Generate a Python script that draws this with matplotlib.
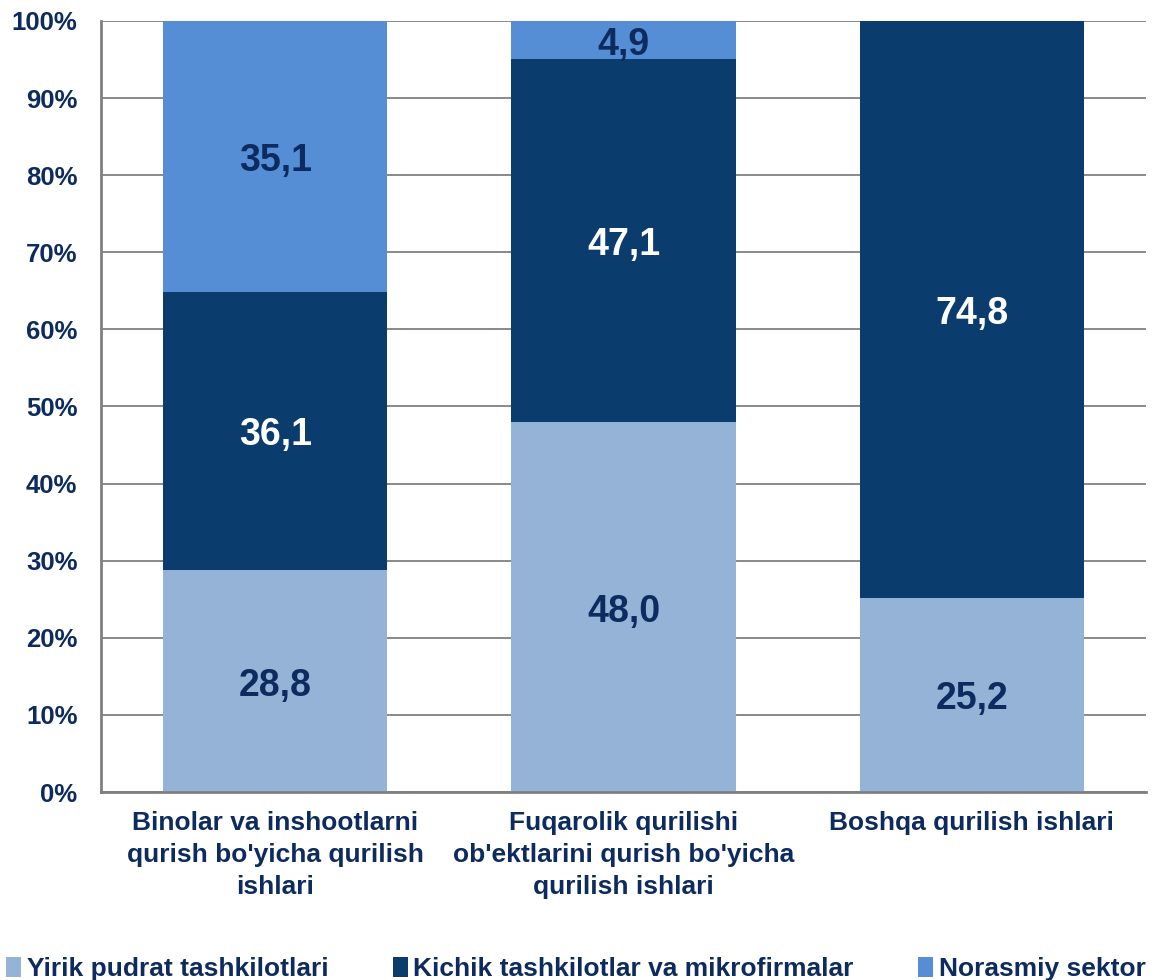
import matplotlib.pyplot as plt
import numpy as np

plt.rcParams['font.family'] = ['Liberation Sans', 'DejaVu Sans']
plt.rcParams['font.weight'] = 'bold'

categories = ["Binolar va inshootlarni\nqurish bo'yicha qurilish\nishlari",
              "Fuqarolik qurilishi\nob'ektlarini qurish bo'yicha\nqurilish ishlari",
              "Boshqa qurilish ishlari"]
series_names = ["Yirik pudrat tashkilotlari",
                "Kichik tashkilotlar va mikrofirmalar",
                "Norasmiy sektor"]
yirik = [28.8, 48.0, 25.2]
kichik = [36.1, 47.1, 74.8]
norasmiy = [35.1, 4.9, 0.0]

colors = ["#95B3D7", "#0A3C6E", "#558ED5"]
label_colors = ["#0D2B5E", "white", "#0D2B5E"]
navy = "#0D2B5E"

fig = plt.figure(figsize=(11.59, 9.8), dpi=100)
ax = fig.add_axes([101 / 1159, 1 - 792 / 980, 1045 / 1159, 771 / 980])

x = np.arange(len(categories))
bottom = np.zeros(len(categories))
handles = []
for vals, col, lc, name in zip([yirik, kichik, norasmiy], colors, label_colors, series_names):
    vals = np.array(vals)
    bars = ax.bar(x, vals, 0.644, bottom=bottom, color=col, zorder=2, label=name)
    handles.append(bars)
    for xi, v, b in zip(x, vals, bottom):
        if v > 0:
            ax.text(xi, b + v / 2 - 0.6, f"{v:.1f}".replace(".", ","), ha="center", va="center",
                    color=lc, fontsize=27, fontweight="bold", zorder=3)
    bottom += vals

ax.set_xlim(-0.5, 2.5)
ax.set_ylim(0, 100)
ax.set_yticks(np.arange(0, 101, 10))
ax.set_yticklabels([f"{t}%" for t in range(0, 101, 10)])
ax.set_xticks(x)
ax.set_xticklabels(categories, linespacing=1.42)
ax.tick_params(axis="y", labelsize=18.5, labelcolor=navy, length=0, pad=17)
ax.tick_params(axis="x", labelsize=19, labelcolor=navy, length=0, pad=14)
ax.yaxis.grid(True, color="#808080", linewidth=1.3, zorder=0)
for s in ["top", "right"]:
    ax.spines[s].set_visible(False)
for s in ["left", "bottom"]:
    ax.spines[s].set_color("#808080")
    ax.spines[s].set_linewidth(2)

leg = fig.legend(handles=handles, labels=series_names, loc="center", bbox_to_anchor=(0.497, 1 - 969 / 980),
                 ncol=3, frameon=False, fontsize=19, handlelength=0.57, handleheight=0.8,
                 handletextpad=0.2, columnspacing=2.45, labelcolor=navy)

fig.savefig("out.png", dpi=100)
